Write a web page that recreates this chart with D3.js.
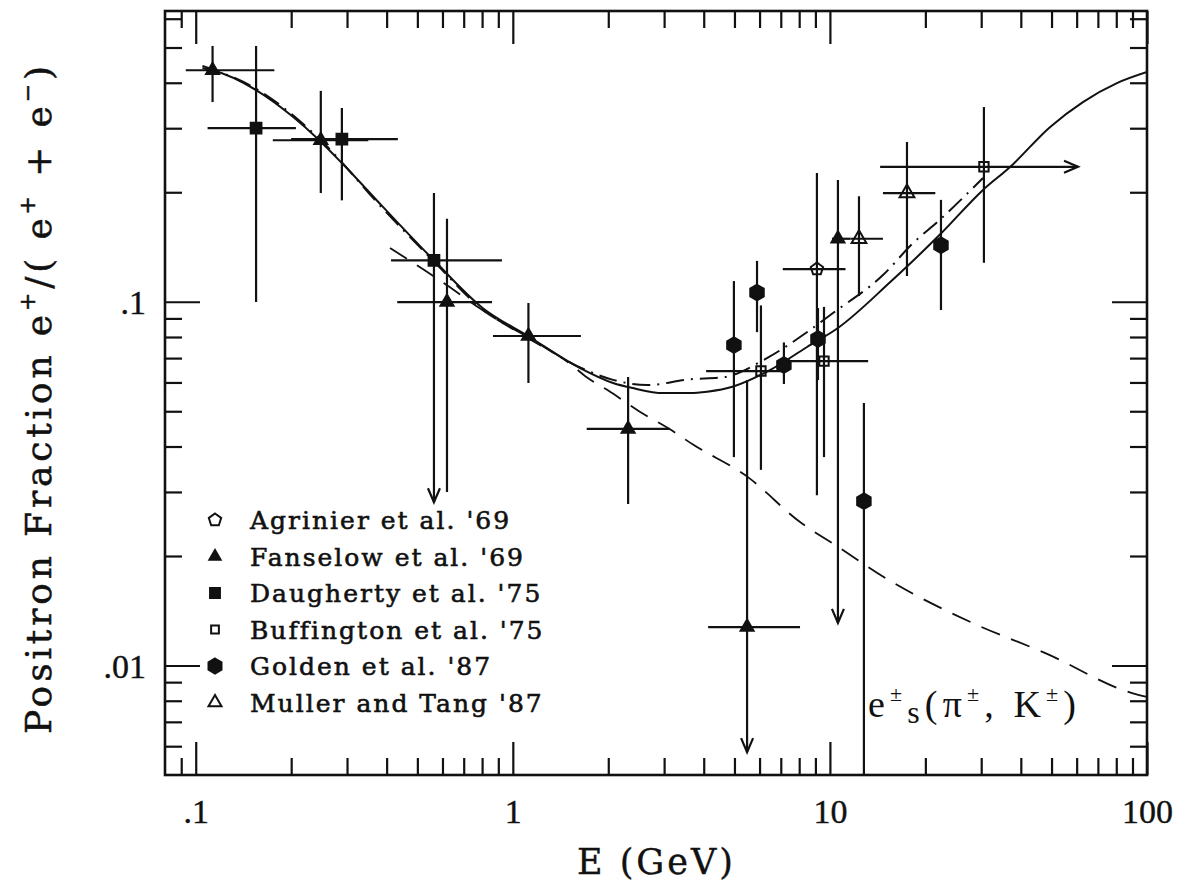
<!DOCTYPE html>
<html>
<head>
<meta charset="utf-8">
<script src="https://cdn.jsdelivr.net/npm/d3@7"></script>
<style>
  body { margin: 0; background: #fff; }
</style>
</head>
<body>
<svg id="chart" width="1180" height="886"></svg>
<script>
// ---- axis ranges and ticks ----
const xDomain = [0.08, 100];
const yDomain = [0.005, 0.63];
const xMajor = [0.1, 1, 10, 100];
const xMajorLabels = [".1", "1", "10", "100"];
const xMinor = [0.09, 0.2, 0.3, 0.4, 0.5, 0.6, 0.7, 0.8, 0.9,
                2, 3, 4, 5, 6, 7, 8, 9, 20, 30, 40, 50, 60, 70, 80, 90];
const yMajor = [0.01, 0.1];
const yMajorLabels = [".01", ".1"];
const yMinor = [0.006, 0.007, 0.008, 0.009, 0.02, 0.03, 0.04, 0.05, 0.06,
                0.07, 0.08, 0.09, 0.2, 0.3, 0.4, 0.5, 0.6];

// ---- measurements: E (GeV), positron fraction, energy bin, fraction error ----
const agrinier69 = [
  { E: 9.1, f: 0.123, eLo: 7.1, eHi: 11.2, fLo: 0.0294, fHi: 0.226 }
];
const fanselow69 = [
  { E: 0.113, f: 0.433, eLo: 0.093, eHi: 0.177, fLo: 0.354, fHi: 0.505 },
  { E: 0.248, f: 0.278, eLo: 0.175, eHi: 0.35, fLo: 0.199, fHi: 0.380 },
  { E: 0.62, f: 0.0998, eLo: 0.432, eHi: 0.86, fLo: 0.030, fHi: 0.169 },
  { E: 1.12, f: 0.0805, eLo: 0.866, eHi: 1.64, fLo: 0.0598, fHi: 0.0992 },
  { E: 2.31, f: 0.0447, eLo: 1.71, eHi: 3.13, fLo: 0.0278, fHi: 0.0621 },
  { E: 5.48, f: 0.01275, eLo: 4.13, eHi: 8.05, fLo: 0.00578, fHi: 0.0609, limit: true },
  { E: 10.6, f: 0.149, eLo: 10.15, eHi: 11.6, fLo: 0.0131, fHi: 0.216, limit: true }
];
const daugherty75 = [
  { E: 0.155, f: 0.300, eLo: 0.109, eHi: 0.207, fLo: 0.0998, fHi: 0.505 },
  { E: 0.289, f: 0.280, eLo: 0.20, eHi: 0.434, fLo: 0.190, fHi: 0.341 },
  { E: 0.564, f: 0.130, eLo: 0.413, eHi: 0.924, fLo: 0.0281, fHi: 0.199, limit: true }
];
const buffington75 = [
  { E: 6.06, f: 0.0645, eLo: 4.07, eHi: 7.16, fLo: 0.0345, fHi: 0.0977 },
  { E: 9.58, f: 0.0687, eLo: 7.48, eHi: 13.2, fLo: 0.0374, fHi: 0.0968 },
  { E: 30.6, f: 0.235, eLo: 14.4, eHi: 60.6, fLo: 0.128, fHi: 0.343, openHigh: true }
];
const golden87 = [
  { E: 4.98, f: 0.076, fLo: 0.0374, fHi: 0.114 },
  { E: 5.89, f: 0.106, fLo: 0.0825, fHi: 0.1295 },
  { E: 7.16, f: 0.067, fLo: 0.0594, fHi: 0.0773 },
  { E: 9.17, f: 0.079, fLo: 0.0609, fHi: 0.0961 },
  { E: 12.8, f: 0.0283, fLo: 0.005, fHi: 0.0527 },
  { E: 22.4, f: 0.143, fLo: 0.0949, fHi: 0.1906 }
];
const muller87 = [
  { E: 12.35, f: 0.149, eLo: 11.6, eHi: 14.7, fLo: 0.1037, fHi: 0.195 },
  { E: 17.5, f: 0.199, eLo: 14.7, eHi: 21.5, fLo: 0.1177, fHi: 0.275 }
];

// ---- model curves ----
const totalE = [0.105, 0.113, 0.155, 0.203, 0.241, 0.289, 0.39, 0.564, 0.805, 1.116,
                1.63, 2.07, 2.39, 2.98, 3.62, 4.1, 4.96, 6.47, 8.47, 10.6, 15.5,
                17.5, 22.4, 30.4, 37, 49.4, 62.8, 80.4, 100];
const totalF = [0.439, 0.433, 0.382, 0.322, 0.282, 0.2406, 0.182, 0.130, 0.096, 0.0805,
                0.0657, 0.0598, 0.0579, 0.0561, 0.0561, 0.0566, 0.0585, 0.0649, 0.0751, 0.0847, 0.1133,
                0.125, 0.154, 0.203, 0.2347, 0.302, 0.354, 0.399, 0.428];
const altE = [0.105, 0.155, 0.241, 0.39, 0.564, 0.805, 1.116, 1.63, 2.07, 2.65,
              3.62, 4.6, 6.33, 8.22, 10.2, 14.7, 18.3, 22.2, 30.4];
const altF = [0.445, 0.385, 0.285, 0.18, 0.129, 0.095, 0.080, 0.066, 0.061, 0.059,
              0.0612, 0.062, 0.070, 0.081, 0.093, 0.1184, 0.145, 0.168, 0.219];
const secondaryE = [0.41, 0.52, 0.62, 0.8, 1.1, 1.5, 1.71, 2.0, 2.5, 3.13, 3.7,
                    5.5, 8.05, 10.6, 15.3, 28.1, 48, 89.7, 100];
const secondaryF = [0.1405, 0.123, 0.111, 0.095, 0.080, 0.068, 0.062, 0.057, 0.050, 0.0446, 0.0405,
                    0.0330, 0.0248, 0.0212, 0.0172, 0.0131, 0.0108, 0.0084, 0.0082];

const legendLabels = ["Agrinier et al. '69", "Fanselow et al. '69", "Daugherty et al. '75",
                      "Buffington et al. '75", "Golden et al. '87", "Muller and Tang '87"];

// ---- layout ----
const plot = { left: 165, right: 1147, top: 11, bottom: 775 };
const ink = "#111";

const svg = d3.select("#chart");
const x = d3.scaleLog().domain(xDomain).range([plot.left, plot.right]);
const y = d3.scaleLog().domain(yDomain).range([plot.bottom, plot.top]);

svg.append("defs").append("clipPath").attr("id", "plotArea")
  .append("rect")
  .attr("x", plot.left).attr("y", plot.top)
  .attr("width", plot.right - plot.left).attr("height", plot.bottom - plot.top);

// ---- axes: inward ticks on all four sides ----
function drawAxis(gen, tx, ty) {
  const g = svg.append("g").attr("transform", `translate(${tx},${ty})`).call(gen);
  g.select(".domain").remove();
  g.selectAll(".tick line").attr("stroke", ink).attr("stroke-width", 2.2);
  g.attr("font-family", "'Liberation Serif', serif").attr("font-size", 34);
  g.selectAll("text").attr("fill", ink).attr("stroke", ink).attr("stroke-width", 0.4);
  return g;
}
const xMajorFmt = d => xMajorLabels[xMajor.indexOf(d)];
const yMajorFmt = d => yMajorLabels[yMajor.indexOf(d)];

const gxb = drawAxis(d3.axisBottom(x).tickValues(xMajor).tickSize(-33).tickFormat(xMajorFmt), 0, plot.bottom);
gxb.selectAll("text").attr("y", 48).attr("dy", 0);
drawAxis(d3.axisBottom(x).tickValues(xMinor).tickSize(-17).tickFormat(""), 0, plot.bottom);
drawAxis(d3.axisTop(x).tickValues(xMajor).tickSize(-33).tickFormat(""), 0, plot.top);
drawAxis(d3.axisTop(x).tickValues(xMinor).tickSize(-17).tickFormat(""), 0, plot.top);

const gyl = drawAxis(d3.axisLeft(y).tickValues(yMajor).tickSize(-35).tickFormat(yMajorFmt), plot.left, 0);
gyl.selectAll("text").attr("x", -19).attr("dy", 0).attr("y", 12).attr("text-anchor", "end");
drawAxis(d3.axisLeft(y).tickValues(yMinor).tickSize(-17).tickFormat(""), plot.left, 0);
drawAxis(d3.axisRight(y).tickValues(yMajor).tickSize(-35).tickFormat(""), plot.right, 0);
drawAxis(d3.axisRight(y).tickValues(yMinor).tickSize(-17).tickFormat(""), plot.right, 0);

svg.append("rect")
  .attr("x", plot.left).attr("y", plot.top)
  .attr("width", plot.right - plot.left).attr("height", plot.bottom - plot.top)
  .attr("fill", "none").attr("stroke", ink).attr("stroke-width", 2.6);

// ---- model curves ----
const curveLayer = svg.append("g").attr("clip-path", "url(#plotArea)");
const line = d3.line().x(d => x(d[0])).y(d => y(d[1])).curve(d3.curveMonotoneX);
function drawCurve(es, fs, dash, width) {
  curveLayer.append("path")
    .datum(es.map((e, i) => [e, fs[i]]))
    .attr("d", line)
    .attr("fill", "none").attr("stroke", ink)
    .attr("stroke-width", width)
    .attr("stroke-dasharray", dash);
}
drawCurve(totalE, totalF, null, 2);
drawCurve(altE, altF, "18,7,2,7", 2);
drawCurve(secondaryE, secondaryF, "20,12", 1.8);

// ---- marker shapes ----
function polygon(n, r, rot) {
  const pts = d3.range(n).map(i => {
    const a = rot + 2 * Math.PI * i / n;
    return [r * Math.sin(a), -r * Math.cos(a)];
  });
  return "M" + pts.map(p => p[0].toFixed(2) + "," + p[1].toFixed(2)).join("L") + "Z";
}
const markers = {
  agrinier:   { d: polygon(5, 6.5, 0), fill: "none" },
  fanselow:   { d: polygon(3, 7.5, 0), fill: ink },
  daugherty:  { d: polygon(4, 7.6, Math.PI / 4), fill: ink },
  buffington: { d: polygon(4, 6.6, Math.PI / 4), fill: "none" },
  golden:     { d: polygon(6, 7.8, 0), fill: ink },
  muller:     { d: polygon(3, 8.5, 0), fill: "none" }
};
const legendMarkers = {
  agrinier:   { d: polygon(5, 6.5, 0), fill: "none" },
  fanselow:   { d: polygon(3, 6.5, 0), fill: ink },
  daugherty:  { d: polygon(4, 7, Math.PI / 4), fill: ink },
  buffington: { d: polygon(4, 5.5, Math.PI / 4), fill: "none" },
  golden:     { d: polygon(6, 7.5, 0), fill: ink },
  muller:     { d: polygon(3, 7.5, 0), fill: "none" }
};

// ---- data points with error bars ----
const dataLayer = svg.append("g").attr("clip-path", "url(#plotArea)");
function drawSeries(rows, key) {
  const g = dataLayer.append("g").attr("stroke", ink).attr("stroke-width", 2.2).attr("fill", "none");
  rows.forEach(r => {
    const cx = x(r.E), cy = y(r.f);
    if (r.eLo !== undefined) {
      g.append("line").attr("x1", x(r.eLo)).attr("x2", x(r.eHi)).attr("y1", cy).attr("y2", cy);
    }
    g.append("line").attr("x1", cx).attr("x2", cx).attr("y1", y(r.fHi)).attr("y2", y(r.fLo));
    if (r.limit) {
      const ty = y(r.fLo);
      g.append("path").attr("d", `M${cx - 6},${ty - 14}L${cx},${ty}L${cx + 6},${ty - 14}`);
    }
    if (r.openHigh) {
      const tx = x(r.eHi);
      g.append("path").attr("d", `M${tx - 14},${cy - 6}L${tx},${cy}L${tx - 14},${cy + 6}`);
    }
  });
  const m = markers[key];
  dataLayer.append("g").selectAll("path").data(rows).join("path")
    .attr("transform", r => `translate(${x(r.E)},${y(r.f)})`)
    .attr("d", m.d)
    .attr("fill", m.fill)
    .attr("stroke", ink).attr("stroke-width", 2);
}
drawSeries(agrinier69, "agrinier");
drawSeries(fanselow69, "fanselow");
drawSeries(daugherty75, "daugherty");
drawSeries(buffington75, "buffington");
drawSeries(golden87, "golden");
drawSeries(muller87, "muller");

// ---- legend ----
const legendKeys = ["agrinier", "fanselow", "daugherty", "buffington", "golden", "muller"];
const legend = svg.append("g").attr("transform", "translate(215,520)");
legendKeys.forEach((k, i) => {
  const row = legend.append("g").attr("transform", `translate(0,${i * 36.5})`);
  row.append("path").attr("d", legendMarkers[k].d)
    .attr("fill", legendMarkers[k].fill).attr("stroke", ink).attr("stroke-width", 2);
  row.append("text").attr("x", 35).attr("y", 9)
    .attr("font-family", "'DejaVu Serif', serif").attr("font-size", 25)
    .attr("letter-spacing", 2).attr("fill", ink)
    .attr("stroke", ink).attr("stroke-width", 0.6)
    .text(legendLabels[i]);
});

// ---- axis titles ----
const yTitle = svg.append("text")
  .attr("transform", "translate(51,400) rotate(-90)")
  .attr("text-anchor", "middle")
  .attr("font-family", "'DejaVu Serif', serif").attr("font-size", 36)
  .attr("fill", ink).attr("stroke", ink).attr("stroke-width", 0.5)
  .attr("textLength", 668).attr("lengthAdjust", "spacing");
yTitle.append("tspan").text("Positron Fraction e");
yTitle.append("tspan").attr("dy", -16).attr("font-size", 22).text("+");
yTitle.append("tspan").attr("dy", 16).text("/( e");
yTitle.append("tspan").attr("dy", -16).attr("font-size", 22).text("+");
yTitle.append("tspan").attr("dy", 16).text(" + e");
yTitle.append("tspan").attr("dy", -16).attr("font-size", 22).text("\u2212");
yTitle.append("tspan").attr("dy", 16).text(")");

svg.append("text")
  .attr("x", 655).attr("y", 874)
  .attr("text-anchor", "middle")
  .attr("font-family", "'DejaVu Serif', serif").attr("font-size", 35)
  .attr("fill", ink).attr("stroke", ink).attr("stroke-width", 0.4)
  .attr("textLength", 156).attr("lengthAdjust", "spacing")
  .text("E (GeV)");

// ---- curve annotation ----
const note = svg.append("text")
  .attr("x", 1076).attr("y", 717)
  .attr("text-anchor", "end")
  .attr("font-family", "'Liberation Serif', serif").attr("font-size", 38)
  .attr("fill", ink)
  .attr("textLength", 208).attr("lengthAdjust", "spacing");
note.append("tspan").text("e");
note.append("tspan").attr("dy", -16).attr("font-size", 22).text("\u00b1");
note.append("tspan").attr("dy", 22).attr("font-size", 32).text("s");
note.append("tspan").attr("dy", -6).text("(\u03c0");
note.append("tspan").attr("dy", -16).attr("font-size", 22).text("\u00b1");
note.append("tspan").attr("dy", 16).text(", K");
note.append("tspan").attr("dy", -16).attr("font-size", 22).text("\u00b1");
note.append("tspan").attr("dy", 16).text(")");
</script>
</body>
</html>
